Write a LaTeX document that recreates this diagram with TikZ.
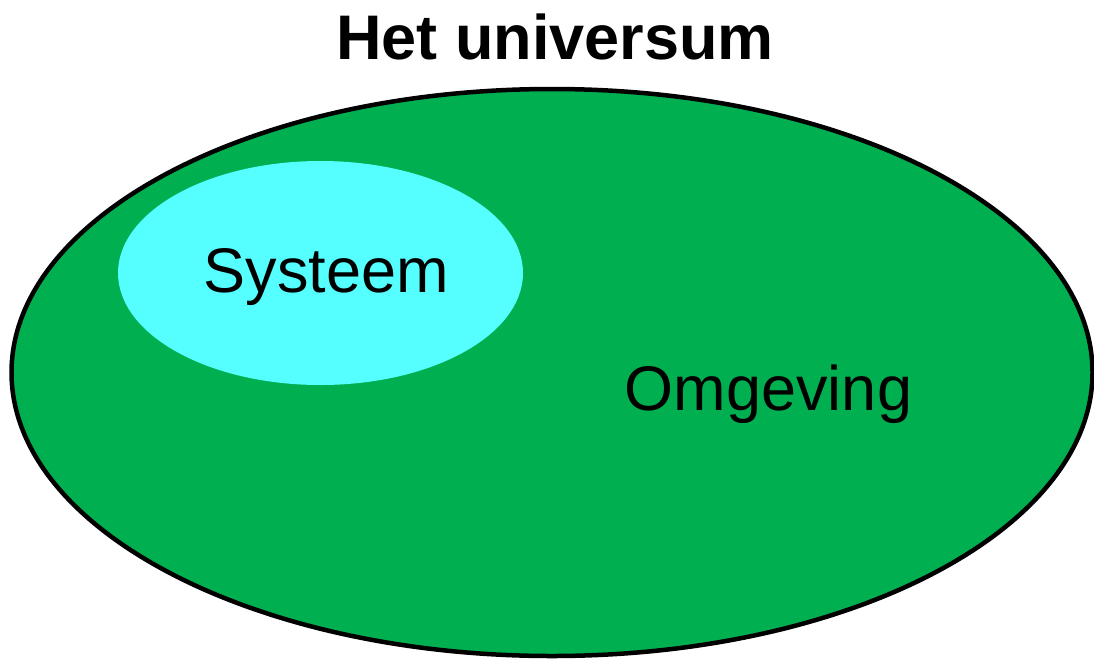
\documentclass[tikz,border=0pt]{standalone}
\usepackage{fontspec}
\setmainfont{Liberation Sans}
\usetikzlibrary{shapes.geometric}
\definecolor{omggreen}{HTML}{00B050}
\definecolor{syscyan}{HTML}{55FFFF}
\tikzset{
  lbl/.style={inner sep=0pt, anchor=base, font=\fontsize{63}{63}\selectfont},
  ttl/.style={inner sep=0pt, anchor=base, font=\fontsize{63}{63}\selectfont\bfseries}
}
\begin{document}
\begin{tikzpicture}[x=1pt,y=-1pt]
\useasboundingbox (0,0) rectangle (1094,659);
\fill[white] (0,0) rectangle (1094,659);
\draw[fill=omggreen, line width=4.5pt] (552,372.5) ellipse [x radius=540.5, y radius=283.5];
\fill[syscyan] (320.5,273) ellipse [x radius=202.5, y radius=112];
\node[ttl] (title) at (555,59) {Het universum};
\node[lbl] (sys) at (326.5,292) {Systeem};
\node[lbl] (omg) at (768.5,410) {Omgeving};
\end{tikzpicture}
\end{document}
